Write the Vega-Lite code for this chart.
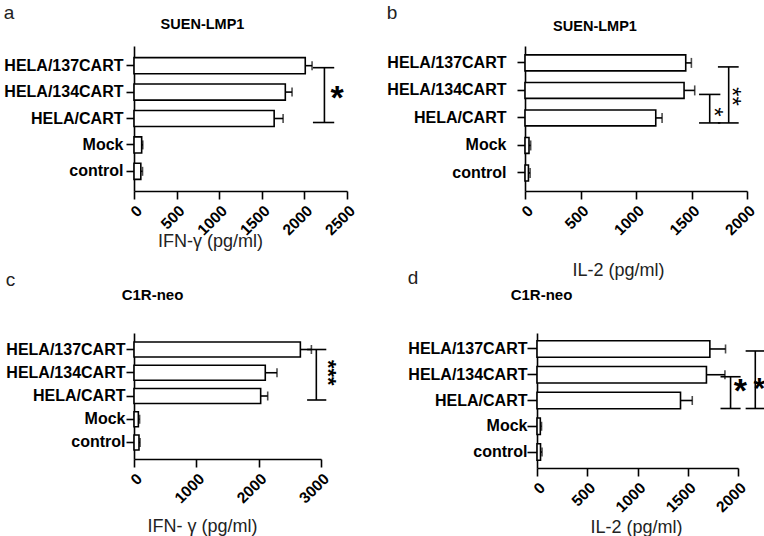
{
  "$schema": "https://vega.github.io/schema/vega-lite/v6.json",
  "padding": {"left": 3, "top": 3, "right": 0, "bottom": 0},
  "config": {
    "font": "Liberation Sans",
    "view": {"stroke": null},
    "axis": {"grid": false, "domainColor": "black", "domainWidth": 1.6, "tickColor": "black", "tickWidth": 1.6, "tickSize": 8, "labelColor": "black", "labelFont": "Liberation Sans", "labelFontWeight": "bold", "titleFont": "Liberation Sans", "titleFontWeight": "normal", "titleColor": "#222", "titleFontSize": 18, "labelOverlap": false, "labelFlush": false},
    "axisY": {"labelFontSize": 16, "labelPadding": 3, "title": null},
    "axisX": {"labelFontSize": 15.5, "labelAngle": -45, "format": "d", "labelPadding": 4, "titleAlign": "center", "titleBaseline": "alphabetic"}
  },
  "datasets": {
    "a": [
      {"cat": "HELA/137CART", "mean": 2010, "err": 2090},
      {"cat": "HELA/134CART", "mean": 1776, "err": 1855},
      {"cat": "HELA/CART", "mean": 1645, "err": 1750},
      {"cat": "Mock", "mean": 90, "err": 103},
      {"cat": "control", "mean": 80, "err": 100}
    ],
    "b": [
      {"cat": "HELA/137CART", "mean": 1448, "err": 1499},
      {"cat": "HELA/134CART", "mean": 1433, "err": 1529},
      {"cat": "HELA/CART", "mean": 1178, "err": 1235},
      {"cat": "Mock", "mean": 36, "err": 51},
      {"cat": "control", "mean": 31, "err": 46}
    ],
    "c": [
      {"cat": "HELA/137CART", "mean": 2669, "err": 2846},
      {"cat": "HELA/134CART", "mean": 2106, "err": 2294},
      {"cat": "HELA/CART", "mean": 2032, "err": 2145},
      {"cat": "Mock", "mean": 70, "err": 90},
      {"cat": "control", "mean": 80, "err": 97}
    ],
    "d": [
      {"cat": "HELA/137CART", "mean": 1720, "err": 1876},
      {"cat": "HELA/134CART", "mean": 1686, "err": 1870},
      {"cat": "HELA/CART", "mean": 1428, "err": 1545},
      {"cat": "Mock", "mean": 33, "err": 45},
      {"cat": "control", "mean": 35, "err": 50}
    ],
    "a_br": [{"top": "HELA/137CART", "bottom": "HELA/CART", "x": 2235, "x1": 2100, "x2": 2350}],
    "b_br": [
      {"top": "HELA/134CART", "bottom": "HELA/CART", "x": 1664, "x1": 1568, "x2": 1760},
      {"top": "HELA/137CART", "bottom": "HELA/CART", "x": 1835, "x1": 1738, "x2": 1925}
    ],
    "c_br": [{"top": "HELA/137CART", "bottom": "HELA/CART", "x": 2925, "x1": 2777, "x2": 3085}],
    "d_br": [
      {"top": "HELA/134CART", "bottom": "HELA/CART", "x": 1926, "x1": 1826, "x2": 2026},
      {"top": "HELA/137CART", "bottom": "HELA/CART", "x": 2172, "x1": 2076, "x2": 2276}
    ],
    "a_star": [{"cat": "HELA/134CART", "x": 2385, "label": "*"}],
    "b_star1": [{"cat": "HELA/CART", "x": 1630, "label": "*"}],
    "b_star2": [{"cat": "HELA/134CART", "x": 1795, "label": "**"}],
    "c_star": [{"cat": "HELA/134CART", "x": 2995, "label": "***"}],
    "d_star1": [{"cat": "HELA/CART", "x": 2023, "label": "*"}],
    "d_star2": [{"cat": "HELA/CART", "x": 2212, "label": "*"}]
  },
  "spacing": -10,
  "vconcat": [
    {
      "spacing": 28,
      "hconcat": [
        {
          "title": {"text": "a", "anchor": "start", "fontSize": 19, "fontWeight": "normal", "color": "#222", "offset": -6.5},
          "vconcat": [
            {
              "width": 213, "height": 145,
              "title": {"text": "SUEN-LMP1", "fontSize": 14.5, "fontWeight": "bold", "color": "black", "anchor": "middle", "frame": "group", "dx": -38, "offset": 14},
              "data": {"name": "a"},
              "encoding": {
                "y": {"field": "cat", "type": "nominal", "scale": {"domain": ["HELA/137CART", "HELA/134CART", "HELA/CART", "Mock", "control"], "paddingInner": 0.39, "paddingOuter": 0.44}},
                "x": {"field": "mean", "type": "quantitative", "scale": {"domain": [0, 2500], "nice": false}, "axis": {"values": [0, 500, 1000, 1500, 2000, 2500], "title": "IFN-γ (pg/ml)", "titleX": 76, "titleY": 55}}
              },
              "layer": [
                {"mark": {"type": "bar", "fill": "white", "stroke": "black", "strokeWidth": 1.6}},
                {"mark": {"type": "rule", "color": "black", "strokeWidth": 1.6}, "encoding": {"x2": {"field": "err"}}},
                {"mark": {"type": "tick", "color": "black", "thickness": 1.6, "size": 9}, "encoding": {"x": {"field": "err", "type": "quantitative"}}},
                {"data": {"name": "a_br"}, "mark": {"type": "rule", "color": "black", "strokeWidth": 1.6, "yOffset": 2, "y2Offset": 4}, "encoding": {"y": {"field": "top", "type": "nominal"}, "y2": {"field": "bottom"}, "x": {"field": "x", "type": "quantitative"}}},
                {"data": {"name": "a_br"}, "mark": {"type": "rule", "color": "black", "strokeWidth": 1.6, "yOffset": 2}, "encoding": {"y": {"field": "top", "type": "nominal"}, "x": {"field": "x1", "type": "quantitative"}, "x2": {"field": "x2"}}},
                {"data": {"name": "a_br"}, "mark": {"type": "rule", "color": "black", "strokeWidth": 1.6, "yOffset": 4}, "encoding": {"y": {"field": "bottom", "type": "nominal"}, "x": {"field": "x1", "type": "quantitative"}, "x2": {"field": "x2"}}},
                {"data": {"name": "a_star"}, "mark": {"type": "text", "fontSize": 34, "fontWeight": "bold", "align": "center", "baseline": "alphabetic", "color": "black", "yOffset": 17}, "encoding": {"y": {"field": "cat", "type": "nominal"}, "x": {"field": "x", "type": "quantitative"}, "text": {"field": "label"}}}
              ]
            }
          ]
        },
        {
          "title": {"text": "b", "anchor": "start", "fontSize": 19, "fontWeight": "normal", "color": "#222", "offset": -4},
          "vconcat": [
            {
              "width": 222, "height": 145,
              "title": {"text": "SUEN-LMP1", "fontSize": 14.5, "fontWeight": "bold", "color": "black", "anchor": "middle", "frame": "group", "dx": -41, "offset": 12},
              "data": {"name": "b"},
              "encoding": {
                "y": {"field": "cat", "type": "nominal", "scale": {"domain": ["HELA/137CART", "HELA/134CART", "HELA/CART", "Mock", "control"], "paddingInner": 0.42, "paddingOuter": 0.345, "align": 0.47}, "axis": {"labelPadding": 11}},
                "x": {"field": "mean", "type": "quantitative", "scale": {"domain": [0, 2000], "nice": false}, "axis": {"values": [0, 500, 1000, 1500, 2000], "title": "IL-2 (pg/ml)", "titleX": 93, "titleY": 84}}
              },
              "layer": [
                {"mark": {"type": "bar", "fill": "white", "stroke": "black", "strokeWidth": 1.6}},
                {"mark": {"type": "rule", "color": "black", "strokeWidth": 1.6}, "encoding": {"x2": {"field": "err"}}},
                {"mark": {"type": "tick", "color": "black", "thickness": 1.6, "size": 10}, "encoding": {"x": {"field": "err", "type": "quantitative"}}},
                {"data": {"name": "b_br"}, "mark": {"type": "rule", "color": "black", "strokeWidth": 1.6, "yOffset": 4, "y2Offset": 5}, "encoding": {"y": {"field": "top", "type": "nominal"}, "y2": {"field": "bottom"}, "x": {"field": "x", "type": "quantitative"}}},
                {"data": {"name": "b_br"}, "mark": {"type": "rule", "color": "black", "strokeWidth": 1.6, "yOffset": 4}, "encoding": {"y": {"field": "top", "type": "nominal"}, "x": {"field": "x1", "type": "quantitative"}, "x2": {"field": "x2"}}},
                {"data": {"name": "b_br"}, "mark": {"type": "rule", "color": "black", "strokeWidth": 1.6, "yOffset": 5}, "encoding": {"y": {"field": "bottom", "type": "nominal"}, "x": {"field": "x1", "type": "quantitative"}, "x2": {"field": "x2"}}},
                {"data": {"name": "b_star1"}, "mark": {"type": "text", "fontSize": 24, "align": "center", "baseline": "alphabetic", "angle": 90, "color": "black", "yOffset": -6}, "encoding": {"y": {"field": "cat", "type": "nominal"}, "x": {"field": "x", "type": "quantitative"}, "text": {"field": "label"}}},
                {"data": {"name": "b_star2"}, "mark": {"type": "text", "fontSize": 24, "align": "center", "baseline": "alphabetic", "angle": 90, "color": "black", "yOffset": 6}, "encoding": {"y": {"field": "cat", "type": "nominal"}, "x": {"field": "x", "type": "quantitative"}, "text": {"field": "label"}}}
              ]
            }
          ]
        }
      ]
    },
    {
      "spacing": 68,
      "hconcat": [
        {
          "title": {"text": "c", "anchor": "start", "fontSize": 19, "fontWeight": "normal", "color": "#222", "offset": -2},
          "vconcat": [
            {
              "width": 187, "height": 126,
              "title": {"text": "C1R-neo", "fontSize": 15, "fontWeight": "bold", "color": "black", "anchor": "middle", "frame": "group", "dx": -75, "offset": 30},
              "data": {"name": "c"},
              "encoding": {
                "y": {"field": "cat", "type": "nominal", "scale": {"domain": ["HELA/137CART", "HELA/134CART", "HELA/CART", "Mock", "control"], "paddingInner": 0.36, "paddingOuter": 0.39}, "axis": {"labelPadding": 1}},
                "x": {"field": "mean", "type": "quantitative", "scale": {"domain": [0, 3000], "nice": false}, "axis": {"values": [0, 1000, 2000, 3000], "title": "IFN- γ (pg/ml)", "titleX": 68, "titleY": 72}}
              },
              "layer": [
                {"mark": {"type": "bar", "fill": "white", "stroke": "black", "strokeWidth": 1.6}},
                {"mark": {"type": "rule", "color": "black", "strokeWidth": 1.6}, "encoding": {"x2": {"field": "err"}}},
                {"mark": {"type": "tick", "color": "black", "thickness": 1.6, "size": 9}, "encoding": {"x": {"field": "err", "type": "quantitative"}}},
                {"data": {"name": "c_br"}, "mark": {"type": "rule", "color": "black", "strokeWidth": 1.6, "yOffset": 0, "y2Offset": 4}, "encoding": {"y": {"field": "top", "type": "nominal"}, "y2": {"field": "bottom"}, "x": {"field": "x", "type": "quantitative"}}},
                {"data": {"name": "c_br"}, "mark": {"type": "rule", "color": "black", "strokeWidth": 1.6, "yOffset": 0}, "encoding": {"y": {"field": "top", "type": "nominal"}, "x": {"field": "x1", "type": "quantitative"}, "x2": {"field": "x2"}}},
                {"data": {"name": "c_br"}, "mark": {"type": "rule", "color": "black", "strokeWidth": 1.6, "yOffset": 4}, "encoding": {"y": {"field": "bottom", "type": "nominal"}, "x": {"field": "x1", "type": "quantitative"}, "x2": {"field": "x2"}}},
                {"data": {"name": "c_star"}, "mark": {"type": "text", "fontSize": 22, "fontWeight": "bold", "align": "center", "baseline": "alphabetic", "angle": 90, "color": "black"}, "encoding": {"y": {"field": "cat", "type": "nominal"}, "x": {"field": "x", "type": "quantitative"}, "text": {"field": "label"}}}
              ]
            }
          ]
        },
        {
          "title": {"text": "d", "anchor": "start", "fontSize": 19, "fontWeight": "normal", "color": "#222", "offset": 0},
          "vconcat": [
            {
              "width": 201, "height": 135,
              "title": {"text": "C1R-neo", "fontSize": 15, "fontWeight": "bold", "color": "black", "anchor": "middle", "frame": "group", "dx": -96, "offset": 30},
              "data": {"name": "d"},
              "encoding": {
                "y": {"field": "cat", "type": "nominal", "scale": {"domain": ["HELA/137CART", "HELA/134CART", "HELA/CART", "Mock", "control"], "paddingInner": 0.36, "paddingOuter": 0.3}, "axis": {"labelPadding": 0, "tickSize": 10}},
                "x": {"field": "mean", "type": "quantitative", "scale": {"domain": [0, 2000], "nice": false}, "axis": {"values": [0, 500, 1000, 1500, 2000], "title": "IL-2 (pg/ml)", "titleX": 99, "titleY": 64}}
              },
              "layer": [
                {"mark": {"type": "bar", "fill": "white", "stroke": "black", "strokeWidth": 1.6}},
                {"mark": {"type": "rule", "color": "black", "strokeWidth": 1.6}, "encoding": {"x2": {"field": "err"}}},
                {"mark": {"type": "tick", "color": "black", "thickness": 1.6, "size": 9}, "encoding": {"x": {"field": "err", "type": "quantitative"}}},
                {"data": {"name": "d_br"}, "mark": {"type": "rule", "color": "black", "strokeWidth": 1.6, "yOffset": 2, "y2Offset": 8}, "encoding": {"y": {"field": "top", "type": "nominal"}, "y2": {"field": "bottom"}, "x": {"field": "x", "type": "quantitative"}}},
                {"data": {"name": "d_br"}, "mark": {"type": "rule", "color": "black", "strokeWidth": 1.6, "yOffset": 2}, "encoding": {"y": {"field": "top", "type": "nominal"}, "x": {"field": "x1", "type": "quantitative"}, "x2": {"field": "x2"}}},
                {"data": {"name": "d_br"}, "mark": {"type": "rule", "color": "black", "strokeWidth": 1.6, "yOffset": 8}, "encoding": {"y": {"field": "bottom", "type": "nominal"}, "x": {"field": "x1", "type": "quantitative"}, "x2": {"field": "x2"}}},
                {"data": {"name": "d_star1"}, "mark": {"type": "text", "fontSize": 34, "fontWeight": "bold", "align": "center", "baseline": "alphabetic", "color": "black", "yOffset": 1}, "encoding": {"y": {"field": "cat", "type": "nominal"}, "x": {"field": "x", "type": "quantitative"}, "text": {"field": "label"}}},
                {"data": {"name": "d_star2"}, "mark": {"type": "text", "fontSize": 30, "fontWeight": "bold", "align": "center", "baseline": "alphabetic", "color": "black", "yOffset": -3}, "encoding": {"y": {"field": "cat", "type": "nominal"}, "x": {"field": "x", "type": "quantitative"}, "text": {"field": "label"}}}
              ]
            }
          ]
        }
      ]
    }
  ]
}
